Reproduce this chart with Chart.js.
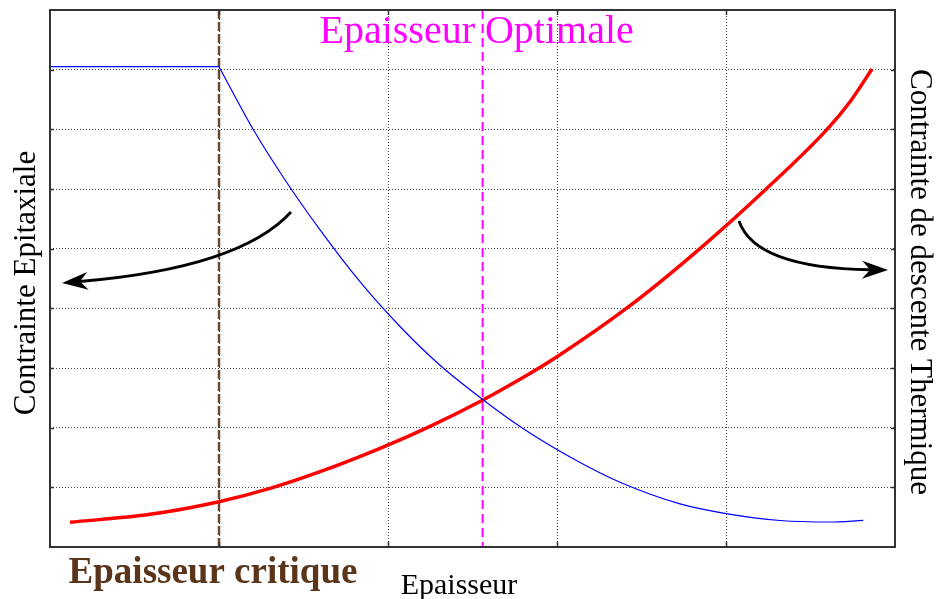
<!DOCTYPE html>
<html lang="fr">
<head>
<meta charset="utf-8">
<title>Contrainte et épaisseur</title>
<script src="https://cdn.jsdelivr.net/npm/chart.js@4/dist/chart.umd.min.js"></script>
<style>
  html, body { margin: 0; padding: 0; background: #fff; }
  #wrap { position: relative; width: 937px; height: 599px; }
</style>
</head>
<body>
<div id="wrap"><canvas id="stressChart"></canvas></div>
<script>
// contrainte épitaxiale : palier puis relaxation au-delà de l'épaisseur critique
const epiThickness = [0, 1, 1.201, 1.391, 1.598, 1.834, 2.071, 2.308, 2.564, 2.801, 3.096, 3.373, 3.728, 4.0, 4.32, 4.615, 4.812];
const epiStress    = [8.05, 8.05, 7.005, 6.151, 5.314, 4.446, 3.695, 3.045, 2.464, 1.981, 1.478, 1.084, 0.722, 0.56, 0.444, 0.419, 0.446];

// contrainte de descente thermique
const thermThickness = [0.118, 0.592, 1.0, 1.302, 1.598, 1.953, 2.249, 2.562, 2.781, 3.0, 3.432, 3.846, 4.231, 4.598, 4.734, 4.864];
const thermStress    = [0.414, 0.548, 0.759, 0.982, 1.262, 1.654, 2.023, 2.464, 2.81, 3.189, 4.044, 5.001, 5.983, 7.0, 7.463, 8.011];

const criticalThickness = 1;
const optimalThickness = 2.56;

// bornes des axes (pas de 1, sans étiquettes)
const xMax = 5;
const yMax = 9;

// flèches d'annotation, en coordonnées des axes : départ, contrôle, pointe
const arrows = [
  { from: [1.426, 5.614], via: [1.124, 4.676], to: [0.071, 4.424] },
  { from: [4.077, 5.463], via: [4.172, 4.676], to: [4.959, 4.642] }
];

const serif = "'Liberation Serif', 'DejaVu Serif', serif";

const toPoints = (xs, ys) => xs.map((v, i) => ({ x: v, y: ys[i] }));
const epiPoints = toPoints(epiThickness, epiStress);
const plateau = epiPoints.filter(p => p.x <= criticalThickness);
const relaxation = epiPoints.filter(p => p.x >= criticalThickness);

function vline(chart, value, color, width, dash) {
  const { ctx, chartArea: a, scales: { x } } = chart;
  const px = x.getPixelForValue(value);
  ctx.save();
  ctx.strokeStyle = color;
  ctx.lineWidth = width;
  ctx.setLineDash(dash);
  ctx.beginPath();
  ctx.moveTo(px, a.top);
  ctx.lineTo(px, a.bottom);
  ctx.stroke();
  ctx.restore();
}

function drawArrow(chart, arrow) {
  const { ctx, scales: { x, y } } = chart;
  const p = a => [x.getPixelForValue(a[0]), y.getPixelForValue(a[1])];
  const [sx, sy] = p(arrow.from);
  const [cx, cy] = p(arrow.via);
  const [tx, ty] = p(arrow.to);
  const ang = Math.atan2(ty - cy, tx - cx);
  const dx = Math.cos(ang), dy = Math.sin(ang);
  const len = 26, half = 9, notch = 8;

  ctx.save();
  ctx.strokeStyle = '#000';
  ctx.fillStyle = '#000';
  ctx.lineWidth = 2.8;
  ctx.beginPath();
  ctx.moveTo(sx, sy);
  ctx.quadraticCurveTo(cx, cy, tx - dx * (len - notch), ty - dy * (len - notch));
  ctx.stroke();

  ctx.beginPath();
  ctx.moveTo(tx, ty);
  ctx.lineTo(tx - dx * len - dy * half, ty - dy * len + dx * half);
  ctx.lineTo(tx - dx * (len - notch), ty - dy * (len - notch));
  ctx.lineTo(tx - dx * len + dy * half, ty - dy * len - dx * half);
  ctx.closePath();
  ctx.fill();
  ctx.restore();
}

const decor = {
  id: 'decor',
  beforeDatasetsDraw(chart) {
    vline(chart, criticalThickness, '#6b4a33', 2.5, [9, 3]);
    vline(chart, optimalThickness, '#ff00ff', 2, [9, 5]);
  },
  afterDatasetsDraw(chart) {
    const { ctx, chartArea: a, scales: { x, y } } = chart;

    // cadre et petites graduations vers l'intérieur
    ctx.save();
    ctx.strokeStyle = '#333';
    ctx.lineWidth = 2;
    ctx.strokeRect(a.left, a.top, a.right - a.left, a.bottom - a.top);
    ctx.lineWidth = 1.5;
    ctx.beginPath();
    for (let v = 1; v < xMax; v++) {
      const px = Math.round(x.getPixelForValue(v)) + 0.5;
      ctx.moveTo(px, a.bottom); ctx.lineTo(px, a.bottom - 5);
      ctx.moveTo(px, a.top); ctx.lineTo(px, a.top + 5);
    }
    for (let v = 1; v < yMax; v++) {
      const py = Math.round(y.getPixelForValue(v)) + 0.5;
      ctx.moveTo(a.left, py); ctx.lineTo(a.left + 4, py);
      ctx.moveTo(a.right, py); ctx.lineTo(a.right - 4, py);
    }
    ctx.stroke();
    ctx.restore();

    arrows.forEach(ar => drawArrow(chart, ar));

    // textes
    ctx.save();
    ctx.textBaseline = 'alphabetic';

    ctx.fillStyle = '#ff00ff';
    ctx.font = `40px ${serif}`;
    ctx.textAlign = 'center';
    ctx.fillText('Epaisseur Optimale', x.getPixelForValue(optimalThickness) - 6, 43);

    ctx.fillStyle = '#5a3519';
    ctx.font = `bold 37px ${serif}`;
    ctx.textAlign = 'center';
    ctx.fillText('Epaisseur critique', 213, 583);

    ctx.fillStyle = '#000';
    ctx.font = `30px ${serif}`;
    ctx.fillText('Epaisseur', 459, 594);

    ctx.font = `31px ${serif}`;
    ctx.save();
    ctx.translate(35, 283);
    ctx.rotate(-Math.PI / 2);
    ctx.fillText('Contrainte Epitaxiale', 0, 0);
    ctx.restore();

    ctx.save();
    ctx.translate(911, 282);
    ctx.rotate(Math.PI / 2);
    ctx.fillText('Contrainte de descente Thermique', 0, 0);
    ctx.restore();

    ctx.restore();
  }
};

const axis = (max) => ({
  type: 'linear',
  min: 0,
  max: max,
  ticks: { display: false, stepSize: 1 },
  grid: { color: '#444', lineWidth: 1, drawTicks: false },
  border: { display: false, dash: [1, 2] }
});

new Chart(document.getElementById('stressChart'), {
  type: 'line',
  data: {
    datasets: [
      {
        label: 'Contrainte Epitaxiale',
        data: plateau,
        borderColor: '#0000ff',
        borderWidth: 1.2,
        pointRadius: 0,
        tension: 0
      },
      {
        label: 'Contrainte Epitaxiale (relaxation)',
        data: relaxation,
        borderColor: '#0000ff',
        borderWidth: 1.2,
        pointRadius: 0,
        cubicInterpolationMode: 'monotone'
      },
      {
        label: 'Contrainte de descente Thermique',
        data: toPoints(thermThickness, thermStress),
        borderColor: '#ff0000',
        borderWidth: 3.5,
        pointRadius: 0,
        cubicInterpolationMode: 'monotone'
      }
    ]
  },
  options: {
    responsive: true,
    maintainAspectRatio: false,
    animation: false,
    layout: { padding: { left: 50, top: 10, right: 42, bottom: 52 } },
    plugins: { legend: { display: false }, tooltip: { enabled: false } },
    scales: { x: axis(xMax), y: axis(yMax) }
  },
  plugins: [decor]
});
</script>
</body>
</html>
